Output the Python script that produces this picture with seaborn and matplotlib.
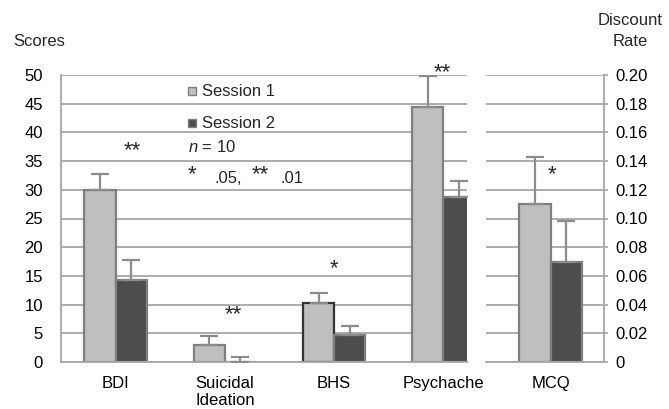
import matplotlib
matplotlib.use("Agg")
import matplotlib.pyplot as plt
import matplotlib.patches as mpatches
import numpy as np
import pandas as pd
import seaborn as sns

# ---------------- data ----------------
measures = ["BDI", "Suicidal\nIdeation", "BHS", "Psychache"]
sessions = ["Session 1", "Session 2"]
scores_s1 = [30.0, 2.9, 10.2, 44.4]
scores_s2 = [14.3, 0.0, 4.7, 28.7]
err_s1 = [2.7, 1.6, 1.8, 5.4]
err_s2 = [3.4, 0.9, 1.5, 2.9]
sig_labels = ["**", "**", "*", "**"]

mcq_label = ["MCQ"]
mcq_s1 = [0.110]
mcq_s2 = [0.070]
mcq_err_s1 = [0.033]
mcq_err_s2 = [0.028]
mcq_sig = ["*"]

score_ticks = [0, 5, 10, 15, 20, 25, 30, 35, 40, 45, 50]
rate_ticks = [0, 0.02, 0.04, 0.06, 0.08, 0.10, 0.12, 0.14, 0.16, 0.18, 0.20]
rate_tick_labels = ["0", "0.02", "0.04", "0.06", "0.08", "0.10", "0.12",
                    "0.14", "0.16", "0.18", "0.20"]

# ---------------- style ----------------
sns.set_style("white")
plt.rcParams["font.family"] = ["Liberation Sans", "DejaVu Sans"]
plt.rcParams["mathtext.fontset"] = "custom"
plt.rcParams["mathtext.it"] = "Liberation Sans:italic"
plt.rcParams["mathtext.rm"] = "Liberation Sans"

LIGHT = "#bfbfbf"
DARK = "#4d4d4d"
EDGE = "#7f7f7f"
GRID = "#a6a6a6"
ERR = "#8c8c8c"
FS = 12

W, H = 669, 409
def fx(px):
    return px / W
def fy(py):
    return 1 - py / H

fig = plt.figure(figsize=(W / 100, H / 100), dpi=100)
ax1 = fig.add_axes([fx(61), fy(362), fx(467) - fx(61), fy(75) - fy(362)])
ax2 = fig.add_axes([fx(486), fy(362), fx(604) - fx(486), fy(75) - fy(362)])

df1 = pd.DataFrame({
    "Measure": measures * 2,
    "Session": [sessions[0]] * len(measures) + [sessions[1]] * len(measures),
    "Score": scores_s1 + scores_s2,
})
df2 = pd.DataFrame({
    "Measure": mcq_label * 2,
    "Session": sessions,
    "Rate": mcq_s1 + mcq_s2,
})
pal = {sessions[0]: LIGHT, sessions[1]: DARK}

sns.barplot(data=df1, x="Measure", y="Score", hue="Session", order=measures,
            hue_order=sessions, palette=pal, width=0.57, errorbar=None,
            saturation=1, edgecolor=EDGE, linewidth=1.6, legend=False, ax=ax1)
sns.barplot(data=df2, x="Measure", y="Rate", hue="Session", order=mcq_label,
            hue_order=sessions, palette=pal, width=0.57, errorbar=None,
            saturation=1, edgecolor=EDGE, linewidth=1.6, legend=False, ax=ax2)

# darker outline on the BHS session-1 bar
ax1.containers[0][2].set_edgecolor("#333333")

def add_errors(ax, errs_list):
    for cont, errs in zip(ax.containers, errs_list):
        for bar, e in zip(cont, errs):
            xc = bar.get_x() + bar.get_width() / 2
            h = bar.get_height()
            ax.errorbar([xc], [h], yerr=[[0], [e]], fmt="none", ecolor=ERR,
                        elinewidth=1.6, capsize=6.5, capthick=1.6, zorder=3)

add_errors(ax1, [err_s1, err_s2])
add_errors(ax2, [mcq_err_s1, mcq_err_s2])

for ax in (ax1, ax2):
    ax.set_xlabel("")
    ax.set_ylabel("")
    ax.set_axisbelow(True)
    ax.grid(axis="y", color=GRID, linewidth=1.3)
    ax.grid(axis="x", visible=False)
    ax.spines["top"].set_visible(False)
    ax.spines["bottom"].set_color(GRID)
    ax.spines["bottom"].set_linewidth(1.3)
    ax.tick_params(axis="x", which="major", length=0, pad=10, labelsize=FS,
                   colors="black")
    ax.tick_params(axis="x", which="minor", length=5, width=1.2, color=GRID,
                   direction="out")

ax1.set_ylim(0, 50)
ax1.set_yticks(score_ticks)
ax1.set_xlim(-0.5, 3.216)
ax1.set_xticks(np.arange(0.5, 3.0, 1.0), minor=True)
ax1.set_xticks(range(len(measures)))
ax1.set_xticklabels(measures, linespacing=1.2)
ax1.spines["right"].set_visible(False)
ax1.spines["left"].set_color(GRID)
ax1.spines["left"].set_linewidth(1.3)
ax1.tick_params(axis="y", length=5, width=1.2, color=GRID, pad=8,
                labelsize=FS, labelcolor="black", direction="out")

ax2.set_ylim(0, 0.2)
ax2.set_yticks(rate_ticks)
ax2.set_yticklabels(rate_tick_labels)
ax2.set_xlim(-0.5915, 0.4886)
ax2.set_xticks([-0.5], minor=True)
ax2.set_xticks([0])
ax2.set_xticklabels(mcq_label)
ax2.yaxis.tick_right()
ax2.spines["left"].set_visible(False)
ax2.spines["right"].set_color(GRID)
ax2.spines["right"].set_linewidth(1.3)
ax2.tick_params(axis="y", length=3, width=1.2, color=GRID, pad=5,
                labelsize=FS, labelcolor="black", direction="out")

# significance markers
sig_offsets = [(0.155, 36.9), (0.08, 8.2), (0.0, 16.3), (-0.01, 50.4)]
for i, (lab, (dx, yy)) in enumerate(zip(sig_labels, sig_offsets)):
    ax1.text(i + dx, yy, lab, ha="center", va="center", fontsize=16,
             clip_on=False)
ax2.text(0.01, 0.1305, mcq_sig[0], ha="center", va="center", fontsize=16)

# legend-like annotation block
for py, col, lab in [(91, LIGHT, sessions[0]), (123, DARK, sessions[1])]:
    fig.patches.append(mpatches.Rectangle((fx(188), fy(py + 4)), 8 / W, 8 / H,
                                          facecolor=col, edgecolor=EDGE,
                                          linewidth=1.0,
                                          transform=fig.transFigure))
    fig.text(fx(202), fy(py), lab, ha="left", va="center", fontsize=FS)
fig.text(fx(188), fy(147), "$n$ = 10", ha="left", va="center", fontsize=FS)
fig.text(fx(188), fy(175), "*", ha="left", va="center", fontsize=16)
fig.text(fx(214), fy(179), ".05,", ha="left", va="center", fontsize=FS)
fig.text(fx(252), fy(175), "**", ha="left", va="center", fontsize=16)
fig.text(fx(281), fy(179), ".01", ha="left", va="center", fontsize=FS)

# axis titles
fig.text(fx(13), fy(41), "Scores", ha="left", va="center", fontsize=FS)
fig.text(fx(630), fy(31), "Discount\nRate", ha="center", va="center",
         fontsize=FS, linespacing=1.45)

fig.savefig("out.png", dpi=100)
